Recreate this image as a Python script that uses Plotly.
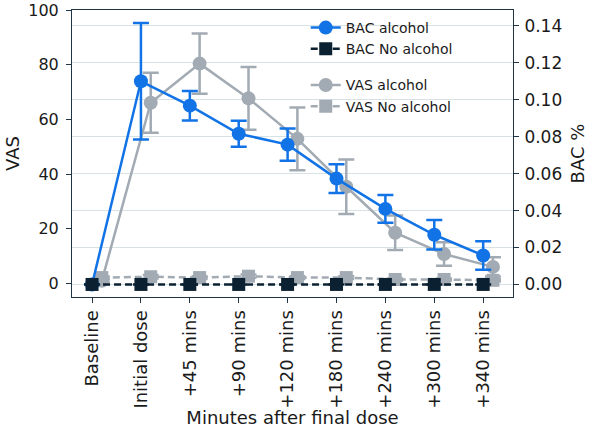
import plotly.graph_objects as go

categories = ["Baseline", "Initial dose", "+45 mins", "+90 mins", "+120 mins",
              "+180 mins", "+240 mins", "+300 mins", "+340 mins"]

bac_alcohol = [0.0, 0.110, 0.0968, 0.0816, 0.0757, 0.0573, 0.0409, 0.0269, 0.0157]
bac_alcohol_err = [0.0, 0.0315, 0.008, 0.007, 0.0087, 0.0078, 0.0075, 0.0080, 0.0077]
bac_noalcohol = [0.0] * 9
bac_noalcohol_err = [0.0] * 9

vas_alcohol = [1.0, 66.1, 80.4, 67.7, 52.9, 35.4, 18.6, 10.8, 6.1]
vas_alcohol_err = [0.5, 11.0, 11.0, 11.5, 11.5, 10.0, 6.3, 4.3, 3.5]
vas_noalcohol = [2.2, 2.5, 2.2, 2.7, 2.2, 2.2, 1.5, 1.5, 1.2]
vas_noalcohol_err = [0.4, 0.6, 0.5, 0.6, 0.5, 0.5, 0.4, 0.4, 0.4]

x_bac = list(range(len(categories)))
x_vas = [i + 0.2 for i in x_bac]

BLUE = "#1173e6"
NAVY = "#0b2132"
GREY = "#a2abb3"
FRAME = "#1f3445"
TXT = "#1a1a1a"

fig = go.Figure()

fig.add_trace(go.Scatter(
    x=x_vas, y=vas_alcohol, name="VAS alcohol", yaxis="y", legendgroup="vas",
    mode="lines+markers",
    line=dict(color=GREY, width=2.5),
    marker=dict(symbol="circle", size=14, color=GREY),
    error_y=dict(type="data", array=vas_alcohol_err, color=GREY, thickness=2.5, width=8),
    legendrank=3,
))
fig.add_trace(go.Scatter(
    x=x_vas, y=vas_noalcohol, name="VAS No alcohol", yaxis="y", legendgroup="vas",
    mode="lines+markers",
    line=dict(color=GREY, width=2.5, dash="7px,4px"),
    marker=dict(symbol="square", size=13, color=GREY),
    error_y=dict(type="data", array=vas_noalcohol_err, color=GREY, thickness=2.5, width=8),
    legendrank=4,
))
fig.add_trace(go.Scatter(
    x=x_bac, y=bac_alcohol, name="BAC alcohol", yaxis="y2", legendgroup="bac",
    mode="lines+markers",
    line=dict(color=BLUE, width=2.5),
    marker=dict(symbol="circle", size=14, color=BLUE),
    error_y=dict(type="data", array=bac_alcohol_err, color=BLUE, thickness=2.5, width=8),
    legendrank=1,
))
fig.add_trace(go.Scatter(
    x=x_bac, y=bac_noalcohol, name="BAC No alcohol", yaxis="y2", legendgroup="bac",
    mode="lines+markers",
    line=dict(color=NAVY, width=2.5, dash="7px,4px"),
    marker=dict(symbol="square", size=13, color=NAVY),
    error_y=dict(type="data", array=bac_noalcohol_err, color=NAVY, thickness=2.5, width=8),
    legendrank=2,
))

fig.update_layout(
    width=592, height=428,
    margin=dict(l=72, r=79, t=10, b=131),
    paper_bgcolor="white", plot_bgcolor="white",
    font=dict(family="DejaVu Sans", size=16, color=TXT),
    showlegend=True,
    legend=dict(
        x=0.53, y=0.993, xanchor="left", yanchor="top",
        bgcolor="rgba(255,255,255,0)", borderwidth=0,
        tracegroupgap=15, font=dict(family="DejaVu Sans", size=14, color=TXT),
        traceorder="grouped",
    ),
    xaxis=dict(
        range=[-0.41, 8.61], automargin=False,
        tickmode="array", tickvals=x_bac, ticktext=categories, tickangle=-90,
        tickfont=dict(size=18),
        ticks="outside", ticklen=5, tickcolor=FRAME,
        showline=True, linecolor=FRAME, linewidth=1, mirror=True,
        showgrid=False, zeroline=False,
        title=dict(text="Minutes after final dose", font=dict(size=18), standoff=2),
    ),
    yaxis=dict(
        range=[-4.9, 100], automargin=False,
        tickvals=[0, 20, 40, 60, 80, 100],
        tickfont=dict(size=16), ticklabelstandoff=4, ticklabeloverflow="allow",
        ticks="outside", ticklen=5, tickcolor=FRAME,
        showline=True, linecolor=FRAME, linewidth=1, mirror=False,
        showgrid=False, zeroline=False,
        title=dict(text="VAS", font=dict(size=18), standoff=3),
    ),
    yaxis2=dict(
        range=[-0.0068, 0.1486], automargin=False,
        tickvals=[0, 0.02, 0.04, 0.06, 0.08, 0.10, 0.12, 0.14],
        tickformat=".2f",
        tickfont=dict(size=17), ticklabelstandoff=2, ticklabeloverflow="allow",
        overlaying="y", side="right",
        ticks="outside", ticklen=5, tickcolor=FRAME,
        showline=True, linecolor=FRAME, linewidth=1,
        showgrid=True, gridcolor="#d6e2e4", gridwidth=1,
        zeroline=False,
        title=dict(text="BAC %", font=dict(size=18), standoff=10),
    ),
)

fig.write_html("out.html")
